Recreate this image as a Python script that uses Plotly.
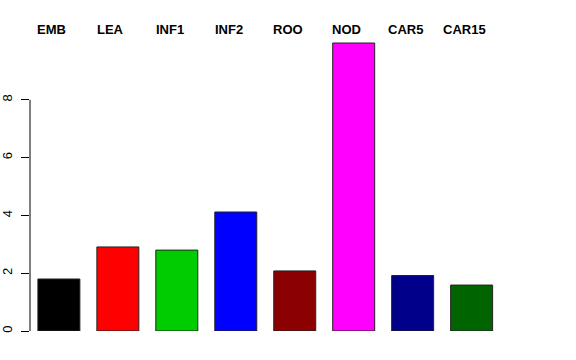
import plotly.graph_objects as go

categories = ["EMB", "LEA", "INF1", "INF2", "ROO", "NOD", "CAR5", "CAR15"]
values = [1.80, 2.91, 2.80, 4.12, 2.08, 9.97, 1.92, 1.59]
colors = ["#000000", "#FF0000", "#00CD00", "#0000FF", "#8B0000", "#FF00FF", "#00008B", "#006400"]
y_ticks = [0, 2, 4, 6, 8]

xpos = list(range(len(categories)))

fig = go.Figure()
fig.add_trace(go.Bar(
    x=xpos, y=values, width=0.712,
    marker=dict(color=colors, line=dict(color="#222222", width=1)),
    showlegend=False, hoverinfo="skip",
))

for i, c in enumerate(categories):
    fig.add_annotation(x=i, y=1.003, xref="x", yref="paper", text="<b>%s</b>" % c,
                       showarrow=False, xshift=-7, yanchor="middle",
                       font=dict(family="Liberation Sans, Arial, sans-serif", size=13, color="black"))

fig.add_shape(type="line", xref="paper", yref="y", x0=0, x1=0, y0=0, y1=8,
              line=dict(color="black", width=1))

fig.update_layout(
    width=576, height=360,
    margin=dict(l=30, r=69, t=30, b=29),
    paper_bgcolor="white", plot_bgcolor="white",
    font=dict(family="Liberation Sans, Arial, sans-serif", size=13, color="black"),
    xaxis=dict(range=[-0.49, 7.6], showticklabels=False, showgrid=False, zeroline=False,
               showline=False, ticks="", automargin=False),
    yaxis=dict(range=[0, 10.42], tickvals=y_ticks, ticktext=[str(v) for v in y_ticks],
               tickangle=-90, ticks="outside", ticklen=8, tickcolor="black", tickwidth=1,
               showgrid=False, zeroline=False, showline=False, ticklabelstandoff=4,
               automargin=False),
)

fig.write_html("out.html", config={"displayModeBar": False},
               post_script="document.body.style.margin='0';")
